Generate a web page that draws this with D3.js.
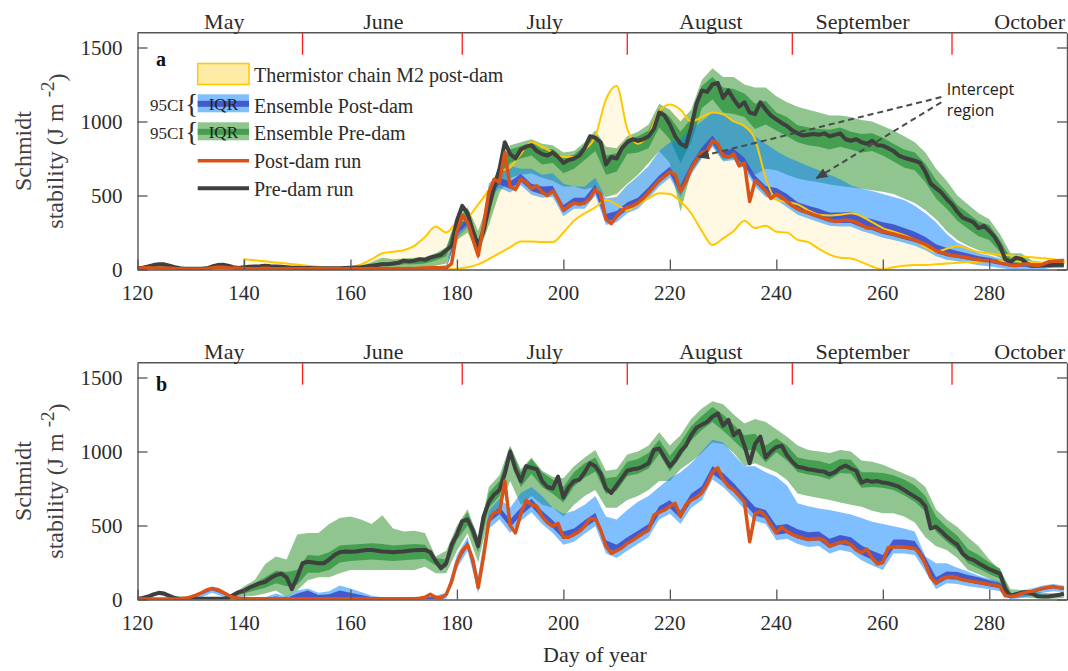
<!DOCTYPE html>
<html>
<head>
<meta charset="utf-8">
<script src="https://cdn.jsdelivr.net/npm/d3@7/dist/d3.min.js"></script>
<style>
  html, body { margin: 0; padding: 0; background: #fff; }
  svg { display: block; }
  .serif { font-family: 'Liberation Serif', 'Times New Roman', serif; }
</style>
</head>
<body>
<svg id="fig" width="1068" height="671"></svg>
<script>
// ---------- time grids ----------
const runDays   = d3.range(120, 295);      // single model runs, daily
const bandDays  = d3.range(120, 295, 2);   // ensemble envelopes, every 2 days
const thermDays = d3.range(140, 295, 2);   // thermistor chain M2 record

// ---------- axes ----------
const monthNames     = ["May", "June", "July", "August", "September", "October"];
const monthLabelDays = [136.3, 166.2, 196.5, 227.7, 256.2, 287.6];
const monthStartDays = [151, 181, 212, 243, 273];
const xTicks = [120, 140, 160, 180, 200, 220, 240, 260, 280];
const yTicks = [0, 500, 1000, 1500];

// ---------- panel a : Schmidt stability (J m-2) ----------
const preRunA = [
  10,12,20,30,35,35,25,15,8,5,
  5,5,5,8,20,30,32,25,15,10,
  15,18,20,22,25,22,20,18,15,12,
  12,10,10,8,8,8,8,8,8,10,
  12,14,16,20,25,30,35,35,40,45,
  60,55,60,70,65,80,90,100,130,160,
  330,430,380,260,160,260,420,560,680,860,
  780,750,810,830,840,800,780,770,790,760,
  720,740,750,770,820,900,890,860,710,760,
  750,820,860,880,870,880,900,950,1060,1040,
  980,900,850,830,960,1120,1210,1200,1250,1260,
  1160,1210,1150,1100,1130,1060,1050,1130,1080,1040,
  1015,990,970,940,920,905,910,915,910,920,
  900,910,920,880,870,880,860,850,870,840,
  837,820,800,770,755,745,735,720,660,580,
  550,520,476,440,390,350,335,320,280,295,
  260,220,160,70,50,80,72,40,25,25,
  28,30,30,32,32];
const postRunA = [
  8,10,12,10,8,10,8,6,5,4,
  3,3,3,5,10,15,15,12,10,8,
  6,5,5,6,8,6,5,5,6,5,
  5,6,5,5,8,5,5,6,5,5,
  5,6,5,5,6,5,6,5,5,6,
  5,6,5,8,10,12,12,12,10,40,
  253,365,320,206,93,300,520,610,590,790,
  560,540,610,590,545,566,522,500,530,476,
  400,430,450,440,450,480,540,510,340,310,
  360,400,420,430,450,480,520,560,600,630,
  660,640,530,590,680,740,790,800,870,850,
  770,760,780,700,720,460,600,570,530,480,
  510,490,460,430,410,395,385,370,360,345,
  335,325,330,335,330,320,300,280,280,270,
  255,248,240,230,220,210,200,185,170,150,
  127,115,104,95,92,85,80,72,66,60,
  60,58,45,37,30,25,32,37,30,25,
  35,50,55,58,60];
const pre95HiA = [
  15,25,40,30,10,8,8,25,38,20,
  20,25,30,25,20,18,15,12,12,12,
  18,25,50,80,70,75,80,85,110,150,
  360,420,260,470,720,840,860,880,850,840,
  790,800,860,940,830,820,900,930,980,1120,
  1080,1000,1080,1280,1360,1300,1300,1250,1230,1230,
  1170,1130,1100,1080,1060,1040,1040,1030,1010,1000,
  970,940,900,860,790,680,600,500,440,380,
  340,240,110,110,60,50,45,45];
const preIQRHiA = [
  12,22,38,28,9,6,6,22,35,17,
  17,22,27,22,17,14,12,10,10,10,
  15,20,35,50,50,68,68,75,100,140,
  350,400,200,440,700,810,835,860,815,815,
  755,775,840,915,770,785,880,900,940,1090,
  1030,930,1020,1240,1300,1230,1220,1190,1120,1140,
  1060,1030,975,960,950,945,960,930,915,920,
  890,850,810,790,715,605,525,435,380,325,
  300,200,75,90,40,38,38,38];
const preIQRLoA = [
  5,12,25,15,4,3,3,12,22,8,
  8,12,15,12,8,6,5,4,4,4,
  6,8,15,25,25,35,35,40,60,90,
  280,330,120,370,620,720,750,770,710,720,
  650,680,740,800,640,660,780,790,820,960,
  880,720,860,1090,1150,1060,1050,1030,950,980,
  940,900,860,840,830,810,830,810,790,800,
  770,730,690,670,590,480,410,330,275,225,
  200,120,25,45,12,15,18,20];
const pre95LoA = [
  2,5,10,5,1,1,1,5,10,3,
  3,5,5,5,3,2,2,1,1,1,
  2,3,5,8,10,12,12,15,25,40,
  200,250,100,300,520,620,640,650,620,600,
  560,560,540,560,490,510,580,640,720,800,
  720,390,660,760,840,740,750,690,640,680,
  670,640,615,600,590,575,565,555,545,535,
  525,510,480,450,400,340,260,200,160,130,
  110,80,20,20,10,10,10,10];
const post95HiA = [
  10,15,12,10,6,4,4,12,18,12,
  8,8,8,8,8,8,8,8,8,8,
  8,8,8,10,10,10,12,12,20,30,
  290,380,140,580,650,700,680,680,640,650,
  580,560,560,620,480,490,570,630,700,800,
  860,880,950,1000,1060,1040,1000,960,900,850,
  800,760,730,700,670,640,610,570,545,530,
  510,490,470,430,380,320,240,180,150,110,
  95,75,50,50,45,50,70,75];
const postIQRHiA = [
  10,14,10,10,6,4,4,12,17,12,
  8,7,10,7,8,7,7,10,7,7,
  7,7,8,8,7,7,7,12,14,12,
  265,345,115,555,620,595,645,580,560,565,
  435,485,485,575,375,395,455,485,555,635,
  695,570,715,825,905,805,815,755,635,565,
  550,510,455,430,410,385,385,390,355,340,
  320,305,280,255,220,170,145,125,108,90,
  80,62,40,42,38,44,65,70];
const postIQRLoA = [
  6,10,6,6,3,2,2,8,12,8,
  4,3,6,3,4,3,3,6,3,3,
  3,3,4,4,3,3,3,8,10,8,
  240,305,80,505,575,545,595,530,507,515,
  385,435,435,525,325,345,405,435,505,585,
  645,515,665,775,855,755,765,705,585,515,
  495,445,395,370,345,320,315,315,285,265,
  240,225,205,185,155,112,90,78,66,52,
  46,32,18,20,18,22,42,48];
const post95LoA = [
  2,5,2,2,0,0,0,4,8,4,
  0,0,2,0,0,0,0,2,0,0,
  0,0,0,0,0,0,0,4,5,4,
  215,285,60,480,550,520,570,505,485,490,
  360,410,410,500,300,320,380,410,480,560,
  620,490,640,750,830,730,740,680,560,490,
  470,420,370,345,320,295,290,290,260,240,
  215,200,180,160,130,90,66,55,42,28,
  22,10,0,0,0,0,15,22];
const thermHi = [
  70,62,55,48,40,33,26,18,10,5,
  15,35,70,110,120,130,160,220,290,250,
  320,350,440,540,660,690,780,860,830,790,
  760,760,810,900,1150,1240,950,850,910,1070,
  1115,1080,1000,1030,1060,1050,1000,970,880,620,
  470,455,440,400,370,365,370,380,360,320,
  280,255,232,200,150,120,140,160,140,118,
  108,100,95,88,82,76,70,62];
const thermLo = [
  0,0,0,0,0,0,0,0,0,0,
  0,0,0,0,0,0,0,0,0,0,
  5,15,35,70,110,150,190,190,185,185,
  250,330,380,420,470,440,400,440,480,515,
  510,460,380,260,165,210,260,330,280,296,
  255,250,200,185,140,100,80,75,50,20,
  0,15,25,30,30,35,40,45,50,52,
  55,55,55,52,50,45,42,40];

// ---------- panel b ----------
const preRunB = [
  5,10,20,35,45,40,25,10,5,5,
  5,5,5,5,5,5,5,10,30,50,
  60,80,95,110,120,145,165,175,150,70,
  150,245,255,250,245,245,270,300,320,325,
  323,325,330,335,335,330,325,323,320,323,
  325,330,332,335,335,320,260,210,245,370,
  440,530,540,470,360,560,660,710,740,850,
  999,880,800,900,890,880,800,760,750,830,
  690,760,800,810,860,920,900,850,750,720,
  770,820,870,880,885,900,920,1010,1020,960,
  900,940,1000,1040,1110,1160,1180,1200,1235,1258,
  1175,1213,1110,1140,1040,920,1050,1100,960,1000,
  1030,1040,975,930,897,890,880,875,868,864,
  845,860,890,905,885,870,790,805,795,800,
  790,785,775,762,740,717,695,672,630,480,
  492,460,425,395,370,310,280,268,245,225,
  205,190,175,70,25,35,45,50,40,22,
  20,20,25,30,40];
const postRunB = [
  3,3,3,3,3,3,3,3,5,8,
  18,30,45,64,75,68,50,30,15,8,
  5,5,5,5,5,5,5,5,5,5,
  5,5,5,5,5,5,5,5,5,5,
  5,5,5,5,5,5,5,5,5,5,
  5,5,5,8,15,35,15,10,35,120,
  250,330,370,270,80,290,530,590,590,800,
  500,450,580,670,640,630,560,520,495,515,
  420,420,440,460,495,545,545,470,360,312,
  330,350,380,400,425,450,470,570,590,605,
  630,650,560,640,672,690,720,780,860,890,
  810,765,740,700,660,390,580,595,560,500,
  450,490,460,440,425,415,405,410,412,400,
  360,375,385,390,370,335,315,340,280,240,
  250,350,357,357,355,350,345,310,240,150,
  110,140,150,155,145,133,128,122,115,110,
  102,98,88,25,20,25,40,50,55,65,
  75,82,88,80,77];
const pre95HiB = [
  10,25,50,30,8,8,8,8,8,35,
  90,130,240,290,270,440,450,450,510,550,
  560,540,510,570,480,460,465,450,290,330,
  500,610,420,760,840,1040,880,960,870,830,
  820,900,960,1010,870,880,980,1000,1040,1130,
  1040,1110,1220,1290,1340,1320,1250,1190,1220,1200,
  1150,1100,1040,1010,1000,990,1010,1000,940,930,
  910,880,850,820,760,610,540,490,420,360,
  270,200,70,65,60,45,40,50];
const preIQRHiB = [
  7,22,48,27,6,6,6,6,6,32,
  70,110,150,195,185,200,300,295,320,365,
  370,375,380,375,365,370,375,370,280,270,
  480,590,400,720,800,1030,860,950,860,810,
  760,860,920,960,820,830,930,950,990,1080,
  970,1060,1170,1240,1300,1250,1180,1110,1120,1040,
  1090,1040,960,945,935,915,950,945,860,860,
  855,840,810,770,700,560,490,430,340,300,
  250,210,40,55,50,30,30,45];
const preIQRLoB = [
  3,15,38,20,3,3,3,3,3,20,
  40,60,80,110,90,100,180,180,200,250,
  260,265,270,265,260,265,270,275,230,215,
  400,500,320,620,700,960,760,850,760,715,
  655,765,825,865,715,735,835,850,885,985,
  865,965,1075,1145,1200,1140,1075,1005,1015,925,
  995,940,862,845,833,810,855,850,755,760,
  755,740,705,660,595,457,390,335,245,210,
  170,140,15,30,25,12,15,25];
const pre95LoB = [
  2,10,30,15,2,2,2,2,2,10,
  20,25,40,60,15,60,130,150,150,177,
  200,200,200,200,200,200,200,222,177,177,
  330,447,250,560,620,800,640,700,640,620,
  560,640,700,740,620,620,672,700,740,800,
  800,880,930,990,1060,1050,990,900,920,890,
  860,807,717,700,685,672,655,640,627,600,
  582,582,560,520,420,360,335,280,200,170,
  140,100,10,15,10,5,5,10];
const post95HiB = [
  15,10,8,5,8,20,48,78,55,20,
  10,10,15,40,20,60,75,45,55,95,
  75,50,25,15,10,10,10,20,25,45,
  300,420,160,600,680,620,720,760,700,620,
  580,600,640,700,560,540,605,660,700,760,
  820,860,920,1000,1080,1060,980,900,900,860,
  830,770,650,630,615,605,590,575,550,525,
  510,495,480,460,290,245,245,215,190,160,
  140,120,40,60,75,95,105,95];
const postIQRHiB = [
  5,5,5,5,6,19,46,76,52,16,
  6,6,8,20,10,40,60,30,35,60,
  45,30,15,8,6,6,6,16,17,38,
  270,395,100,560,625,540,620,680,600,535,
  460,480,535,585,400,370,420,465,510,630,
  670,600,715,765,900,855,785,705,625,605,
  500,510,475,455,460,410,435,420,365,330,
  300,405,405,395,285,150,190,185,165,150,
  130,110,25,45,60,80,92,82];
const postIQRLoB = [
  0,0,0,0,0,6,33,63,38,3,
  0,0,0,0,0,0,0,0,0,0,
  0,0,0,0,0,0,0,3,3,23,
  238,358,68,518,578,488,568,628,548,483,
  408,428,483,533,348,318,368,413,458,578,
  618,548,660,708,848,798,728,648,568,548,
  438,448,413,393,400,348,373,358,303,268,
  238,345,343,333,228,98,138,133,116,103,
  90,76,8,28,43,63,76,65];
const post95LoB = [
  0,0,0,0,0,0,15,45,20,0,
  0,0,0,0,0,0,0,0,0,0,
  0,0,0,0,0,0,0,0,0,5,
  210,330,40,480,540,450,530,590,510,450,
  370,390,445,495,310,280,330,375,420,540,
  580,510,620,670,810,760,690,610,530,510,
  400,410,375,355,362,310,335,320,265,230,
  200,310,310,300,190,70,110,105,90,80,
  70,55,0,10,25,45,55,50];

// ---------- callout (day, stability) ----------
const calloutLines = ["Intercept", "region"];
const calloutText  = { day: 272.0, value: 1180, step: 140 };
const calloutFrom  = [{ day: 271.0, value: 1165 }, { day: 271.0, value: 1130 }];
const calloutTo    = [{ day: 225.3, value: 760 }, { day: 247.5, value: 616 }];

// ---------- styling ----------
const col = {
  thermFill: "#FFF8E3", thermLine: "#FFC800", thermSwatch: "#FDEBA6",
  greenCI: "rgb(34,139,34)", greenIQR: "#3E9B4B",
  blueCI: "rgb(0,127,255)", blueIQR: "#3F51C8",
  post: "#D95319", pre: "#3F3F3F",
  axis: "#555", text: "#2b2b2b", month: "#FF1A1A"
};

const svg = d3.select("#fig");
const x = d3.scaleLinear().domain([120, 294.6]).range([137.5, 1067]);
const [x0, x1] = x.range();

const defs = svg.append("defs");
defs.append("marker").attr("id", "arrowHead")
  .attr("markerUnits", "userSpaceOnUse")
  .attr("markerWidth", 12).attr("markerHeight", 10)
  .attr("refX", 11).attr("refY", 5).attr("orient", "auto")
  .append("path").attr("d", "M0,0 L12,5 L0,10 Z").attr("fill", "#444");

const zipBand = (days, lo, hi) => days.map((d, i) => ({ d, lo: lo[i], hi: hi[i] }));
const zipLine = (days, v) => days.map((d, i) => ({ d, v: v[i] }));

const panels = [
  { tag: "a", top: 32.7, bottom: 269.5, tagY: 66,
    pre: preRunA, post: postRunA,
    pre95: [pre95LoA, pre95HiA], preIQR: [preIQRLoA, preIQRHiA],
    post95: [post95LoA, post95HiA], postIQR: [postIQRLoA, postIQRHiA],
    therm: [thermLo, thermHi] },
  { tag: "b", top: 362.7, bottom: 599.5, tagY: 391,
    pre: preRunB, post: postRunB,
    pre95: [pre95LoB, pre95HiB], preIQR: [preIQRLoB, preIQRHiB],
    post95: [post95LoB, post95HiB], postIQR: [postIQRLoB, postIQRHiB],
    therm: null }
];

panels.forEach(p => {
  const y = d3.scaleLinear().domain([0, 1600]).range([p.bottom, p.top]);
  const g = svg.append("g");
  const clipId = "clip-" + p.tag;
  defs.append("clipPath").attr("id", clipId).append("rect")
    .attr("x", x0).attr("y", p.top).attr("width", x1 - x0).attr("height", p.bottom - p.top);
  const plot = g.append("g").attr("clip-path", `url(#${clipId})`);

  const area = d3.area().x(d => x(d.d)).y0(d => y(d.lo)).y1(d => y(d.hi));
  const smoothArea = d3.area().curve(d3.curveMonotoneX).x(d => x(d.d)).y0(d => y(d.lo)).y1(d => y(d.hi));
  const line = d3.line().x(d => x(d.d)).y(d => y(d.v));

  // thermistor envelope (fill)
  if (p.therm) {
    plot.append("path").datum(zipBand(thermDays, p.therm[0], p.therm[1]))
      .attr("d", smoothArea).attr("fill", col.thermFill);
  }
  // pre-dam ensemble
  plot.append("path").datum(zipBand(bandDays, p.pre95[0], p.pre95[1]))
    .attr("d", area).attr("fill", col.greenCI).attr("fill-opacity", 0.5);
  plot.append("path").datum(zipBand(bandDays, p.preIQR[0], p.preIQR[1]))
    .attr("d", area).attr("fill", col.greenIQR).attr("fill-opacity", 0.92);
  // post-dam ensemble
  plot.append("path").datum(zipBand(bandDays, p.post95[0], p.post95[1]))
    .attr("d", area).attr("fill", col.blueCI).attr("fill-opacity", 0.5);
  plot.append("path").datum(zipBand(bandDays, p.postIQR[0], p.postIQR[1]))
    .attr("d", area).attr("fill", col.blueIQR).attr("fill-opacity", 0.92);
  // thermistor envelope outline
  if (p.therm) {
    plot.append("path").datum(zipBand(thermDays, p.therm[0], p.therm[1]))
      .attr("d", smoothArea).attr("fill", "none")
      .attr("stroke", col.thermLine).attr("stroke-width", 2).attr("stroke-linejoin", "round");
  }
  // single runs
  plot.append("path").datum(zipLine(runDays, p.pre)).attr("d", line)
    .attr("fill", "none").attr("stroke", col.pre).attr("stroke-width", 4).attr("stroke-linejoin", "round");
  plot.append("path").datum(zipLine(runDays, p.post)).attr("d", line)
    .attr("fill", "none").attr("stroke", col.post).attr("stroke-width", 3.5).attr("stroke-linejoin", "round");

  // frame
  g.append("line").attr("x1", x0).attr("x2", x1).attr("y1", p.top).attr("y2", p.top)
    .attr("stroke", col.axis).attr("stroke-width", 1.4);

  // month start markers and names
  g.selectAll(".mtick").data(monthStartDays).join("line")
    .attr("x1", d => x(d)).attr("x2", d => x(d))
    .attr("y1", p.top).attr("y2", p.top + 22)
    .attr("stroke", col.month).attr("stroke-width", 1.3);
  g.selectAll(".mname").data(monthNames).join("text").attr("class", "serif")
    .attr("x", (d, i) => x(monthLabelDays[i])).attr("y", p.top - 4)
    .attr("text-anchor", "middle").attr("font-size", 22)
    .attr("fill", col.text).text(d => d);

  // axis lines and inward ticks
  const styleAxis = sel => {
    sel.selectAll("path.domain").attr("stroke", col.axis).attr("stroke-width", 1.4);
    sel.selectAll(".tick line").attr("stroke", col.axis).attr("stroke-width", 1.3);
    sel.selectAll(".tick text").remove();
  };
  g.append("g").attr("transform", `translate(${x0},0)`)
    .call(d3.axisLeft(y).tickValues(yTicks).tickSizeInner(-10).tickSizeOuter(0))
    .call(styleAxis);
  g.append("g").attr("transform", `translate(${x1},0)`)
    .call(d3.axisRight(y).tickValues(yTicks).tickSizeInner(-10).tickSizeOuter(0))
    .call(styleAxis);
  g.append("g").attr("transform", `translate(0,${p.bottom})`)
    .call(d3.axisBottom(x).tickValues(xTicks).tickSizeInner(-10).tickSizeOuter(0))
    .call(styleAxis);

  // tick labels
  g.selectAll(".ylab").data(yTicks).join("text").attr("class", "serif")
    .attr("x", x0 - 15).attr("y", d => y(d)).attr("dy", "0.34em")
    .attr("text-anchor", "end").attr("font-size", 21).attr("fill", col.text)
    .text(d => d);
  g.selectAll(".xlab").data(xTicks).join("text").attr("class", "serif")
    .attr("x", d => x(d)).attr("y", p.bottom + 30.5)
    .attr("text-anchor", "middle").attr("font-size", 21).attr("fill", col.text)
    .text(d => d);

  // panel letter
  g.append("text").attr("class", "serif").attr("x", 156).attr("y", p.tagY)
    .attr("font-weight", "bold").attr("font-size", 20)
    .attr("fill", "#111").text(p.tag);

  // y-axis title
  const cy = (p.top + p.bottom) / 2;
  g.append("text").attr("class", "serif").attr("transform", `translate(31,${cy}) rotate(-90)`)
    .attr("text-anchor", "middle").attr("font-size", 24)
    .attr("fill", "#404040").text("Schmidt");
  const t2 = g.append("text").attr("class", "serif").attr("transform", `translate(63,${cy}) rotate(-90)`)
    .attr("text-anchor", "middle").attr("font-size", 24)
    .attr("fill", "#404040");
  t2.append("tspan").text("stability (J m ");
  t2.append("tspan").attr("dy", "-0.45em").attr("font-size", 19).text("-2");
  t2.append("tspan").attr("dy", "0.45em").text(")");

  // callout in panel a
  if (p.tag === "a") {
    calloutFrom.forEach((f, i) => {
      g.append("line")
        .attr("x1", x(f.day)).attr("y1", y(f.value))
        .attr("x2", x(calloutTo[i].day)).attr("y2", y(calloutTo[i].value))
        .attr("stroke", "#4a4a4a").attr("stroke-width", 2)
        .attr("stroke-dasharray", "6,4").attr("marker-end", "url(#arrowHead)");
    });
    calloutLines.forEach((s, i) => {
      g.append("text").attr("x", x(calloutText.day))
        .attr("y", y(calloutText.value - i * calloutText.step))
        .attr("font-family", "'Open Sans','Liberation Sans',sans-serif").attr("font-size", 16)
        .attr("fill", "#222").text(s);
    });
  }
});

// bottom axis title
svg.append("text").attr("class", "serif").attr("x", 595).attr("y", 662).attr("text-anchor", "middle")
  .attr("font-size", 22).attr("fill", col.text).text("Day of year");

// ---------- legend (panel a) ----------
const leg = svg.append("g").attr("class", "serif");
const sx = 197.7, sw = 51.3, tx = 254;
leg.append("rect").attr("x", sx).attr("y", 63.5).attr("width", sw).attr("height", 21)
  .attr("fill", col.thermSwatch).attr("stroke", col.thermLine).attr("stroke-width", 1.5);
leg.append("text").attr("x", tx).attr("y", 81.7).attr("font-size", 20).attr("fill", col.text)
  .text("Thermistor chain M2 post-dam");

const ensembleRows = [
  { y: 94.3, ciFill: col.blueCI, iqrFill: col.blueIQR, label: "Ensemble Post-dam", base: 113 },
  { y: 122.3, ciFill: col.greenCI, iqrFill: col.greenIQR, label: "Ensemble Pre-dam", base: 140 }
];
ensembleRows.forEach(r => {
  leg.append("rect").attr("x", sx).attr("y", r.y).attr("width", sw).attr("height", 18)
    .attr("fill", r.ciFill).attr("fill-opacity", 0.5);
  leg.append("rect").attr("x", sx).attr("y", r.y + 6.5).attr("width", sw).attr("height", 6)
    .attr("fill", r.iqrFill).attr("fill-opacity", 0.92);
  leg.append("text").attr("x", sx + sw / 2).attr("y", r.y + 15.5).attr("text-anchor", "middle")
    .attr("font-size", 17).attr("fill", "#1f1f1f").text("IQR");
  leg.append("text").attr("x", 184).attr("y", r.y + 17).attr("text-anchor", "end")
    .attr("font-size", 17).attr("fill", col.text).text("95CI");
  leg.append("text").attr("x", 185).attr("y", r.y + 19).attr("font-size", 28)
    .attr("font-weight", 300).attr("fill", col.text).text("{");
  leg.append("text").attr("x", tx).attr("y", r.base).attr("font-size", 20).attr("fill", col.text)
    .text(r.label);
});

const lineRows = [
  { y: 160.7, color: col.post, w: 3.5, label: "Post-dam run", base: 168.3 },
  { y: 188.3, color: col.pre, w: 4, label: "Pre-dam run", base: 195.7 }
];
lineRows.forEach(r => {
  leg.append("line").attr("x1", sx).attr("x2", sx + sw).attr("y1", r.y).attr("y2", r.y)
    .attr("stroke", r.color).attr("stroke-width", r.w);
  leg.append("text").attr("x", tx).attr("y", r.base).attr("font-size", 20).attr("fill", col.text)
    .text(r.label);
});
</script>
</body>
</html>
